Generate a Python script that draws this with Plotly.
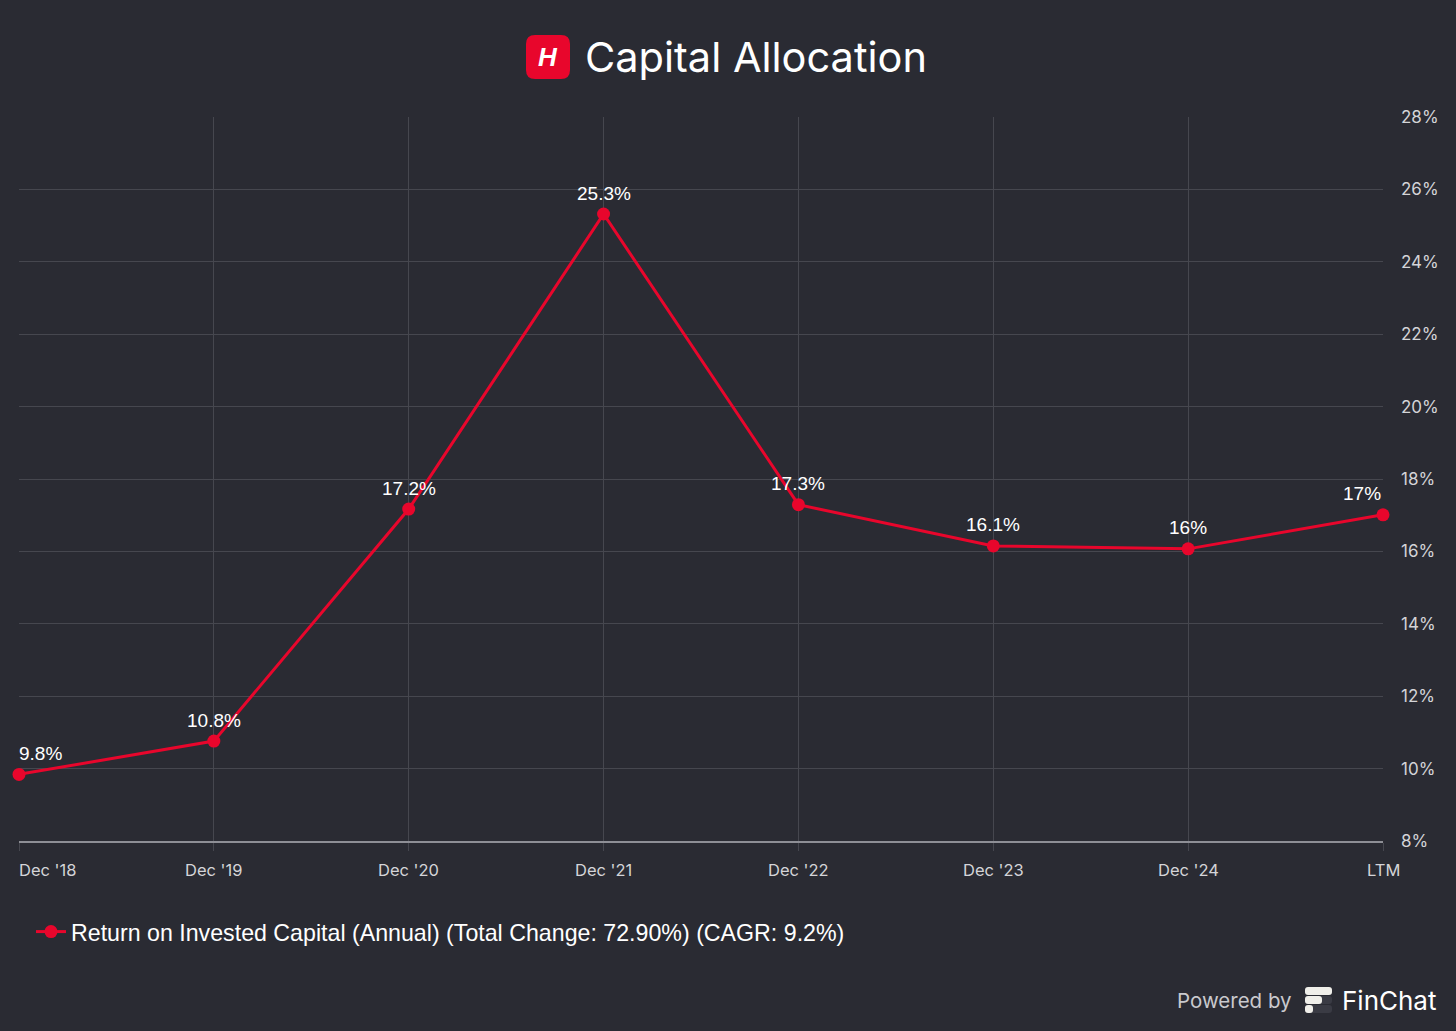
import plotly.graph_objects as go

categories = ["Dec '18", "Dec '19", "Dec '20", "Dec '21", "Dec '22", "Dec '23", "Dec '24", "LTM"]
roic_values = [9.84, 10.76, 17.17, 25.32, 17.29, 16.15, 16.07, 17.01]
roic_labels = ["9.8%", "10.8%", "17.2%", "25.3%", "17.3%", "16.1%", "16%", "17%"]
y_tickvals = [8, 10, 12, 14, 16, 18, 20, 22, 24, 26, 28]
y_ticklabels = ["8%", "10%", "12%", "14%", "16%", "18%", "20%", "22%", "24%", "26%", "28%"]
series_name = "Return on Invested Capital (Annual) (Total Change: 72.90%) (CAGR: 9.2%)"

W, H = 1456, 1031
ML, MR, MT, MB = 19, 73, 117, 190
PW, PH = W - ML - MR, H - MT - MB

def px(x):
    return (x - ML) / PW

def py(y):
    return (H - MB - y) / PH

BG = "#2a2b33"
RED = "#e8062c"
GRID = "#46474f"

xs = list(range(len(categories)))

fig = go.Figure()
fig.add_trace(go.Scatter(
    x=xs, y=roic_values, mode="lines+markers", name=series_name,
    line=dict(color=RED, width=3),
    marker=dict(color=RED, size=13),
    hoverinfo="skip", cliponaxis=False,
))

annotations = []
for i, (v, lab) in enumerate(zip(roic_values, roic_labels)):
    anchor = "center"
    xshift = 0
    if i == 0:
        anchor = "left"
        xshift = -2
    elif i == len(roic_values) - 1:
        anchor = "right"
    annotations.append(dict(
        x=xs[i], y=v, xref="x", yref="y", text=lab, showarrow=False,
        xanchor=anchor, yanchor="middle", yshift=21, xshift=xshift,
        font=dict(family="Liberation Sans, Arial", size=19, color="#ffffff"),
    ))

for i, c in enumerate(categories):
    anchor = "center"
    xshift = 0
    if i == 0:
        anchor = "left"
        xshift = -2
    annotations.append(dict(
        x=xs[i], y=py(870), xref="x", yref="paper", text=c, showarrow=False,
        xanchor=anchor, yanchor="middle", xshift=xshift,
        font=dict(family="Inter, Lato", size=16.5, color="#d4d4d8"),
    ))

# Title
annotations.append(dict(
    x=px(583), y=py(57), xref="paper", yref="paper", text="Capital Allocation",
    showarrow=False, xanchor="left", yanchor="middle",
    font=dict(family="Inter, Lato", size=41.5, color="#ffffff"),
))
annotations.append(dict(
    x=px(548), y=py(57), xref="paper", yref="paper", text="<b><i>H</i></b>",
    showarrow=False, xanchor="center", yanchor="middle",
    font=dict(family="Liberation Sans, Arial", size=26, color="#ffffff"),
))
# Powered by
annotations.append(dict(
    x=px(1294), y=py(1001), xref="paper", yref="paper", text="Powered by",
    showarrow=False, xanchor="right", yanchor="middle",
    font=dict(family="Inter, Lato", size=20.5, color="#c9c9cd"),
))
annotations.append(dict(
    x=px(1340), y=py(1000), xref="paper", yref="paper", text="FinChat",
    showarrow=False, xanchor="left", yanchor="middle",
    font=dict(family="Inter, Lato", size=26, color="#ffffff"),
))

def rrect(x0, y0, x1, y1, r):
    X0, X1 = px(x0), px(x1)
    Y0, Y1 = py(y0), py(y1)
    rx = r / PW
    ry = r / PH
    return (f"M {X0+rx},{Y0} L {X1-rx},{Y0} Q {X1},{Y0} {X1},{Y0-ry} "
            f"L {X1},{Y1+ry} Q {X1},{Y1} {X1-rx},{Y1} L {X0+rx},{Y1} "
            f"Q {X0},{Y1} {X0},{Y1+ry} L {X0},{Y0-ry} Q {X0},{Y0} {X0+rx},{Y0} Z")

shapes = [
    dict(type="path", xref="paper", yref="paper", path=rrect(526, 35, 570, 79, 9),
         fillcolor=RED, line=dict(width=0), layer="above"),
    # FinChat logo
    dict(type="path", xref="paper", yref="paper", path=rrect(1305, 987, 1332, 995, 3),
         fillcolor="#f0efea", line=dict(width=0), layer="above"),
    dict(type="path", xref="paper", yref="paper", path=rrect(1305, 996, 1332, 1004, 3),
         fillcolor="#3a3b44", line=dict(width=0), layer="above"),
    dict(type="path", xref="paper", yref="paper", path=rrect(1305, 996, 1322, 1004, 3),
         fillcolor="#f0efea", line=dict(width=0), layer="above"),
    dict(type="path", xref="paper", yref="paper", path=rrect(1305, 1005, 1332, 1013, 3),
         fillcolor="#3a3b44", line=dict(width=0), layer="above"),
    dict(type="path", xref="paper", yref="paper", path=rrect(1305, 1005, 1313, 1013, 3),
         fillcolor="#f0efea", line=dict(width=0), layer="above"),
]

fig.update_layout(
    width=W, height=H,
    margin=dict(l=ML, r=MR, t=MT, b=MB),
    paper_bgcolor=BG, plot_bgcolor=BG,
    showlegend=True,
    legend=dict(
        orientation="h", x=px(31), y=py(932), xanchor="left", yanchor="middle",
        font=dict(family="Liberation Sans, Arial", size=23.2, color="#ffffff"),
        bgcolor="rgba(0,0,0,0)", itemwidth=30,
    ),
    annotations=annotations,
    shapes=shapes,
    xaxis=dict(
        range=[0, len(categories) - 1], tickvals=xs, showticklabels=False,
        showgrid=True, gridcolor=GRID, gridwidth=1, zeroline=False,
        showline=True, linecolor="#8e8f96", linewidth=1.5,
        ticks="outside", ticklen=8, tickcolor=GRID, fixedrange=True,
    ),
    yaxis=dict(
        range=[8, 28], tickmode="array", tickvals=y_tickvals, ticktext=y_ticklabels,
        side="right",
        showgrid=True, gridcolor=GRID, gridwidth=1, zeroline=False,
        showline=False, ticks="", ticklabelstandoff=17,
        tickfont=dict(family="Inter, Lato", size=17, color="#d4d4d8"),
        fixedrange=True,
    ),
)

fig.write_html(
    "out.html",
    config={"displayModeBar": False, "staticPlot": True},
    post_script="document.body.style.margin='0';document.body.style.background='#2a2b33';",
)
